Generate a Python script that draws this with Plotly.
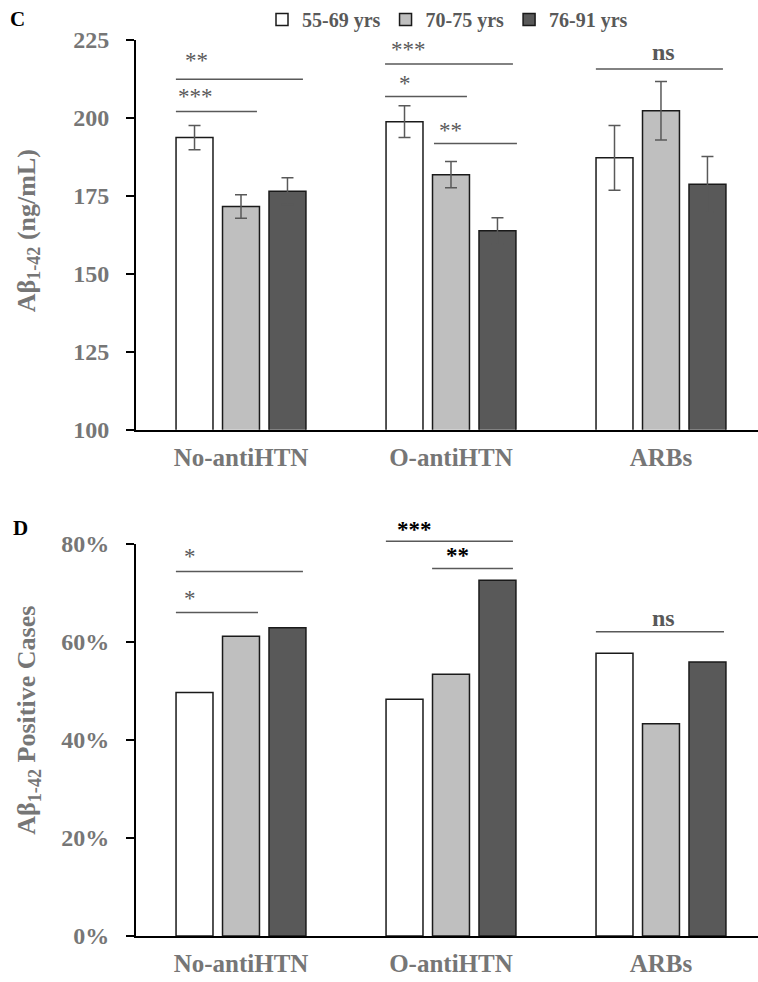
import plotly.graph_objects as go

# ---------------- data ----------------
categories = ["No-antiHTN", "O-antiHTN", "ARBs"]
series_names = ["55-69 yrs", "70-75 yrs", "76-91 yrs"]
series_colors = ["#ffffff", "#bfbfbf", "#595959"]

# Panel C: Abeta1-42 (ng/mL), mean and SEM
conc_55_69 = [193.7, 198.8, 187.2]
conc_70_75 = [171.6, 181.8, 202.3]
conc_76_91 = [176.5, 163.8, 178.7]
err_55_69 = [3.9, 5.1, 10.4]
err_70_75 = [3.8, 4.2, 9.4]
err_76_91 = [4.3, 4.2, 8.9]

# Panel D: Abeta1-42 positive cases (fraction)
pos_55_69 = [0.497, 0.483, 0.577]
pos_70_75 = [0.612, 0.534, 0.433]
pos_76_91 = [0.629, 0.726, 0.559]

c_ticks = [100, 125, 150, 175, 200, 225]
d_ticks = [0, 0.2, 0.4, 0.6, 0.8]

# significance brackets: (x0, x1, y, label, label_x, label_y, color, bold)
sig_c = [
    (-0.31, 0.295, 212.4, "**", -0.214, 218.3, "#595959", False),
    (-0.31, 0.076, 202.1, "***", -0.219, 206.8, "#595959", False),
    (0.686, 1.295, 217.3, "***", 0.80, 221.8, "#595959", False),
    (0.686, 1.076, 206.9, "*", 0.781, 210.9, "#595959", False),
    (0.919, 1.314, 191.8, "**", 1.0, 195.9, "#595959", False),
    (1.69, 2.295, 215.7, "ns", 2.01, 221.2, "#595959", True),
]
sig_d = [
    (-0.31, 0.295, 0.744, "*", -0.243, 0.775, "#595959", False),
    (-0.31, 0.081, 0.660, "*", -0.243, 0.6895, "#595959", False),
    (0.69, 1.295, 0.8055, "***", 0.824, 0.830, "#000000", True),
    (0.91, 1.295, 0.750, "**", 1.033, 0.777, "#000000", True),
    (1.69, 2.30, 0.621, "ns", 2.01, 0.649, "#595959", True),
]

# ---------------- layout helpers ----------------
W, H = 758, 982
ML, MR, MT, MB = 136, 0, 37, 46
PW, PH = W - ML - MR, H - MT - MB


def px_x(px):
    return (px - ML) / PW


def px_y(py):
    return (H - MB - py) / PH


FONT = "Liberation Serif, Times New Roman, serif"
TICK_GRAY = "#767676"

c_range = [100, 225]
d_range = [0, 0.8]
x_range = [-0.5, 2.462]

fig = go.Figure()

conc = [conc_55_69, conc_70_75, conc_76_91]
errs = [err_55_69, err_70_75, err_76_91]
pos = [pos_55_69, pos_70_75, pos_76_91]

for i in range(3):
    fig.add_trace(go.Bar(
        x=categories, y=conc[i], name=series_names[i],
        marker=dict(color=series_colors[i], line=dict(color="#1a1a1a", width=1.5)),
        error_y=dict(type="data", array=errs[i], color="#595959", thickness=1.5, width=6),
        xaxis="x", yaxis="y", legendgroup=series_names[i], showlegend=True,
    ))
for i in range(3):
    fig.add_trace(go.Bar(
        x=categories, y=pos[i], name=series_names[i],
        marker=dict(color=series_colors[i], line=dict(color="#1a1a1a", width=1.5)),
        xaxis="x2", yaxis="y2", legendgroup=series_names[i], showlegend=False,
    ))

shapes = []
annotations = []


def add_sig(sigs, xref, yref, yrng, fsize_star):
    for (x0, x1, y, lab, lx, ly, col, bold) in sigs:
        frac = (y - yrng[0]) / (yrng[1] - yrng[0])
        shapes.append(dict(type="line", xref=xref, yref=yref + " domain",
                           x0=x0, x1=x1, y0=frac, y1=frac,
                           line=dict(color="#595959", width=1.5)))
        lfrac = (ly - yrng[0]) / (yrng[1] - yrng[0])
        size = 24 if lab == "ns" else fsize_star
        annotations.append(dict(
            text=lab, xref=xref, yref=yref + " domain", x=lx, y=lfrac,
            xanchor="center", yanchor="middle", showarrow=False,
            font=dict(family=FONT, size=size, color=col,
                      weight="bold" if bold else "normal")))


add_sig(sig_c, "x", "y", c_range, 23)
add_sig(sig_d, "x2", "y2", d_range, 23)

# panel letters
annotations.append(dict(text="C", xref="paper", yref="paper", x=px_x(17.5), y=px_y(16),
                        xanchor="center", yanchor="middle", showarrow=False,
                        font=dict(family=FONT, size=21, color="#000000", weight="bold")))
annotations.append(dict(text="D", xref="paper", yref="paper", x=px_x(20), y=px_y(527),
                        xanchor="center", yanchor="middle", showarrow=False,
                        font=dict(family=FONT, size=21, color="#000000", weight="bold")))
# y-axis titles
annotations.append(dict(text="Aβ<sub>1-42</sub> (ng/mL)", xref="paper", yref="paper",
                        x=px_x(28), y=px_y(228), textangle=-90,
                        xanchor="center", yanchor="middle", showarrow=False,
                        font=dict(family=FONT, size=26, color=TICK_GRAY, weight="bold")))
annotations.append(dict(text="Aβ<sub>1-42</sub> Positive Cases", xref="paper", yref="paper",
                        x=px_x(28), y=px_y(719), textangle=-90,
                        xanchor="center", yanchor="middle", showarrow=False,
                        font=dict(family=FONT, size=26, color=TICK_GRAY, weight="bold")))

yaxis_common = dict(showline=True, linecolor="#000000", linewidth=2, ticks="outside",
                    ticklen=8, tickwidth=2, tickcolor="#000000", showgrid=False,
                    zeroline=False, ticklabelstandoff=12,
                    tickfont=dict(family=FONT, size=24, color=TICK_GRAY, weight="bold"))
xaxis_common = dict(showline=True, linecolor="#000000", linewidth=2, ticks="",
                    showgrid=False, zeroline=False, range=x_range, ticklabelstandoff=4,
                    tickfont=dict(family=FONT, size=25, color=TICK_GRAY, weight="bold"))

fig.update_layout(
    width=W, height=H, margin=dict(l=ML, r=MR, t=MT, b=MB),
    paper_bgcolor="white", plot_bgcolor="white",
    barmode="group", bargap=0.336, bargroupgap=0.205,
    xaxis=dict(domain=[0, 1], anchor="y", **xaxis_common),
    yaxis=dict(domain=[px_y(428), 1], anchor="x", range=c_range, tickvals=c_ticks, **yaxis_common),
    xaxis2=dict(domain=[0, 1], anchor="y2", **xaxis_common),
    yaxis2=dict(domain=[0, px_y(542.7)], anchor="x2", range=d_range, tickvals=d_ticks,
                tickformat=".0%", **yaxis_common),
    legend=dict(orientation="h", x=px_x(262), y=px_y(16), xanchor="left", yanchor="middle",
                font=dict(family=FONT, size=20, color="#595959", weight="bold"),
                bgcolor="rgba(0,0,0,0)", itemwidth=30, tracegroupgap=0),
    shapes=shapes, annotations=annotations,
    showlegend=True,
)

fig.write_html("out.html", config={"displayModeBar": False},
               post_script="document.body.style.margin='0px';")
